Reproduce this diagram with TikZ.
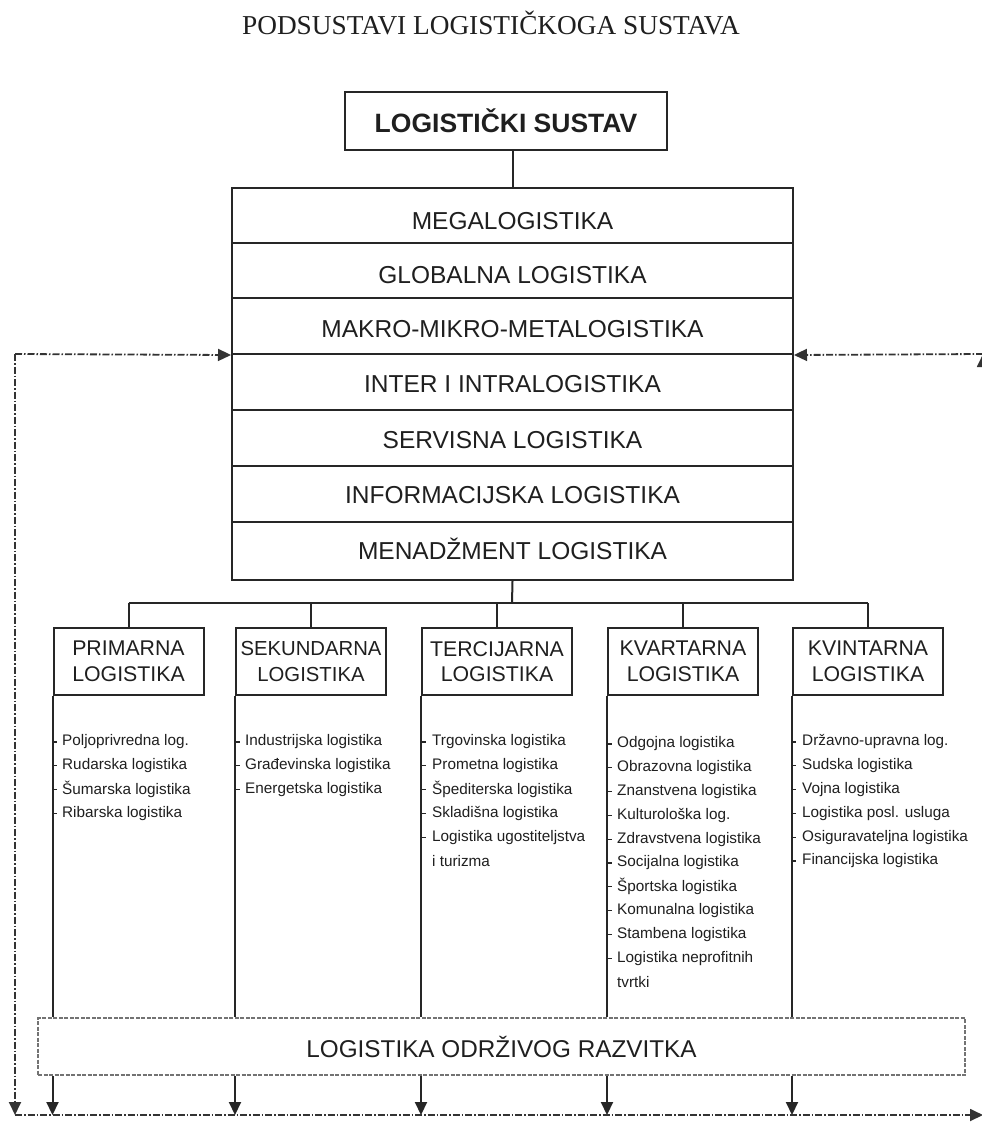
\documentclass[tikz,border=0pt]{standalone}
\usepackage{fontspec}
\setmainfont{Liberation Sans}
\newfontfamily\titlefont{Liberation Serif}
\usetikzlibrary{arrows.meta}
\begin{document}
\begin{tikzpicture}[x=1pt,y=-1pt,
  every node/.style={text=black!88},
  frame/.style={draw=black!85, line width=2pt, inner sep=0pt},
  rowbox/.style={frame, minimum width=561pt, text height=17.5pt, text depth=0pt, font=\fontsize{24.5}{28}\selectfont},
  catbox/.style={frame, minimum width=150pt, minimum height=67pt, align=center, font=\fontsize{21.3}{25.5}\selectfont},
  itemtxt/.style={anchor=west, inner sep=0pt, font=\fontsize{15.3}{18}\selectfont},
  conn/.style={draw=black!85, line width=2pt},
  ticky/.style={draw=black!85, line width=1.2pt},
  loopline/.style={draw=black!80, line width=1.8pt, dash pattern=on 7pt off 2pt on 1.5pt off 2pt},
  tipped/.style={-{Triangle[length=13pt,width=12pt]}},
  sustbox/.style={draw=black!55, line width=1.6pt, dash pattern=on 4pt off 1.5pt, minimum width=927pt, minimum height=57pt, inner sep=0pt, font=\fontsize{24.3}{28}\selectfont}
]
\useasboundingbox (0,0) rectangle (982,1122);
\fill[white] (0,0) rectangle (982,1122);

\node[font=\titlefont\fontsize{27.3}{30}\selectfont, inner sep=0pt] (title) at (491,23) {PODSUSTAVI LOGISTIČKOGA SUSTAVA};

\node[frame, minimum width=322pt, minimum height=58pt, font=\bfseries\fontsize{26.5}{30}\selectfont] (top) at (506,121) {LOGISTIČKI SUSTAV};

\node[rowbox, minimum height=55pt] (r1) at (512.5,215.5) {\raisebox{-5pt}{MEGALOGISTIKA}};
\node[rowbox, minimum height=55pt] (r2) at (512.5,270.5) {\raisebox{-4pt}{GLOBALNA LOGISTIKA}};
\node[rowbox, minimum height=56pt] (r3) at (512.5,326) {\raisebox{-3pt}{MAKRO-MIKRO-METALOGISTIKA}};
\node[rowbox, minimum height=56pt] (r4) at (512.5,382) {\raisebox{-2pt}{INTER I INTRALOGISTIKA}};
\node[rowbox, minimum height=56pt] (r5) at (512.5,438) {\raisebox{-2pt}{SERVISNA LOGISTIKA}};
\node[rowbox, minimum height=56pt] (r6) at (512.5,494) {\raisebox{-1pt}{INFORMACIJSKA LOGISTIKA}};
\node[rowbox, minimum height=58pt] (r7) at (512.5,551) {\raisebox{0pt}{MENADŽMENT LOGISTIKA}};

\draw[conn] (r1.north) -- (r1.north |- top.south);

\node[catbox] (c1) at (128.5,661.5) {PRIMARNA\\LOGISTIKA};
\node[catbox, font=\fontsize{20.3}{25.5}\selectfont] (c2) at (311,661.5) {SEKUNDARNA\\LOGISTIKA};
\node[catbox] (c3) at (497,661.5) {TERCIJARNA\\LOGISTIKA};
\node[catbox] (c4) at (683,661.5) {KVARTARNA\\LOGISTIKA};
\node[catbox] (c5) at (868,661.5) {KVINTARNA\\LOGISTIKA};

\coordinate (bar) at (512,603);
\draw[conn] (r7.south) -- (bar);
\draw[conn] (c1.north |- bar) -- (c5.north |- bar);
\foreach \c in {c1,c2,c3,c4,c5}{
  \draw[conn] (\c.north |- bar) -- (\c.north);
}

\node[sustbox] (odr) at (501.5,1046.5) {LOGISTIKA ODRŽIVOG RAZVITKA};

\coordinate (tl) at (15,354);
\coordinate (bl) at (15,1115);
\coordinate (br) at (983,1115);
\coordinate (tr) at (983,354);

\foreach \c in {c1,c2,c3,c4,c5}{
  \draw[conn] (\c.south west) -- (\c.south west |- odr.north);
  \draw[conn, tipped] (\c.south west |- odr.south) -- (\c.south west |- bl);
}

\draw[loopline, tipped] (tl) -- (r3.south west);
\draw[loopline, tipped] (tl) -- (bl);
\draw[loopline, tipped] (bl) -- (br);
\draw[loopline, tipped] (br) -- (tr);
\draw[loopline, tipped] (tr) -- (r3.south east);

% item lists
\foreach \t [count=\i] in {Poljoprivredna log., Rudarska logistika, Šumarska logistika, Ribarska logistika}{
  \node[itemtxt] (pi\i) at (62,{742+23.8*(\i-1)}) {\t};
  \draw[ticky] (53,{742+23.8*(\i-1)}) -- ++(4,0);
}
\foreach \t [count=\i] in {Industrijska logistika, Građevinska logistika, Energetska logistika}{
  \node[itemtxt] (si\i) at (245,{742+23.8*(\i-1)}) {\t};
  \draw[ticky] (236,{742+23.8*(\i-1)}) -- ++(4,0);
}
\foreach \t [count=\i] in {Trgovinska logistika, Prometna logistika, Špediterska logistika, Skladišna logistika, Logistika ugostiteljstva}{
  \node[itemtxt] (ti\i) at (432,{742+23.8*(\i-1)}) {\t};
  \draw[ticky] (422,{742+23.8*(\i-1)}) -- ++(4,0);
}
\node[itemtxt] (ti6) at (432,{742+23.8*5}) {i turizma};
\foreach \t [count=\i] in {Odgojna logistika, Obrazovna logistika, Znanstvena logistika, Kulturološka log., Zdravstvena logistika, Socijalna logistika, Športska logistika, Komunalna logistika, Stambena logistika, Logistika neprofitnih}{
  \node[itemtxt] (ki\i) at (617,{744+23.8*(\i-1)}) {\t};
  \draw[ticky] (608,{744+23.8*(\i-1)}) -- ++(4,0);
}
\node[itemtxt] (ki11) at (617,{744+23.8*10}) {tvrtki};
\foreach \t [count=\i] in {Državno-upravna log., Sudska logistika, Vojna logistika, Logistika posl. usluga, Osiguravateljna logistika, Financijska logistika}{
  \node[itemtxt] (vi\i) at (802,{742+23.8*(\i-1)}) {\t};
  \draw[ticky] (792,{742+23.8*(\i-1)}) -- ++(4,0);
}
\end{tikzpicture}
\end{document}
